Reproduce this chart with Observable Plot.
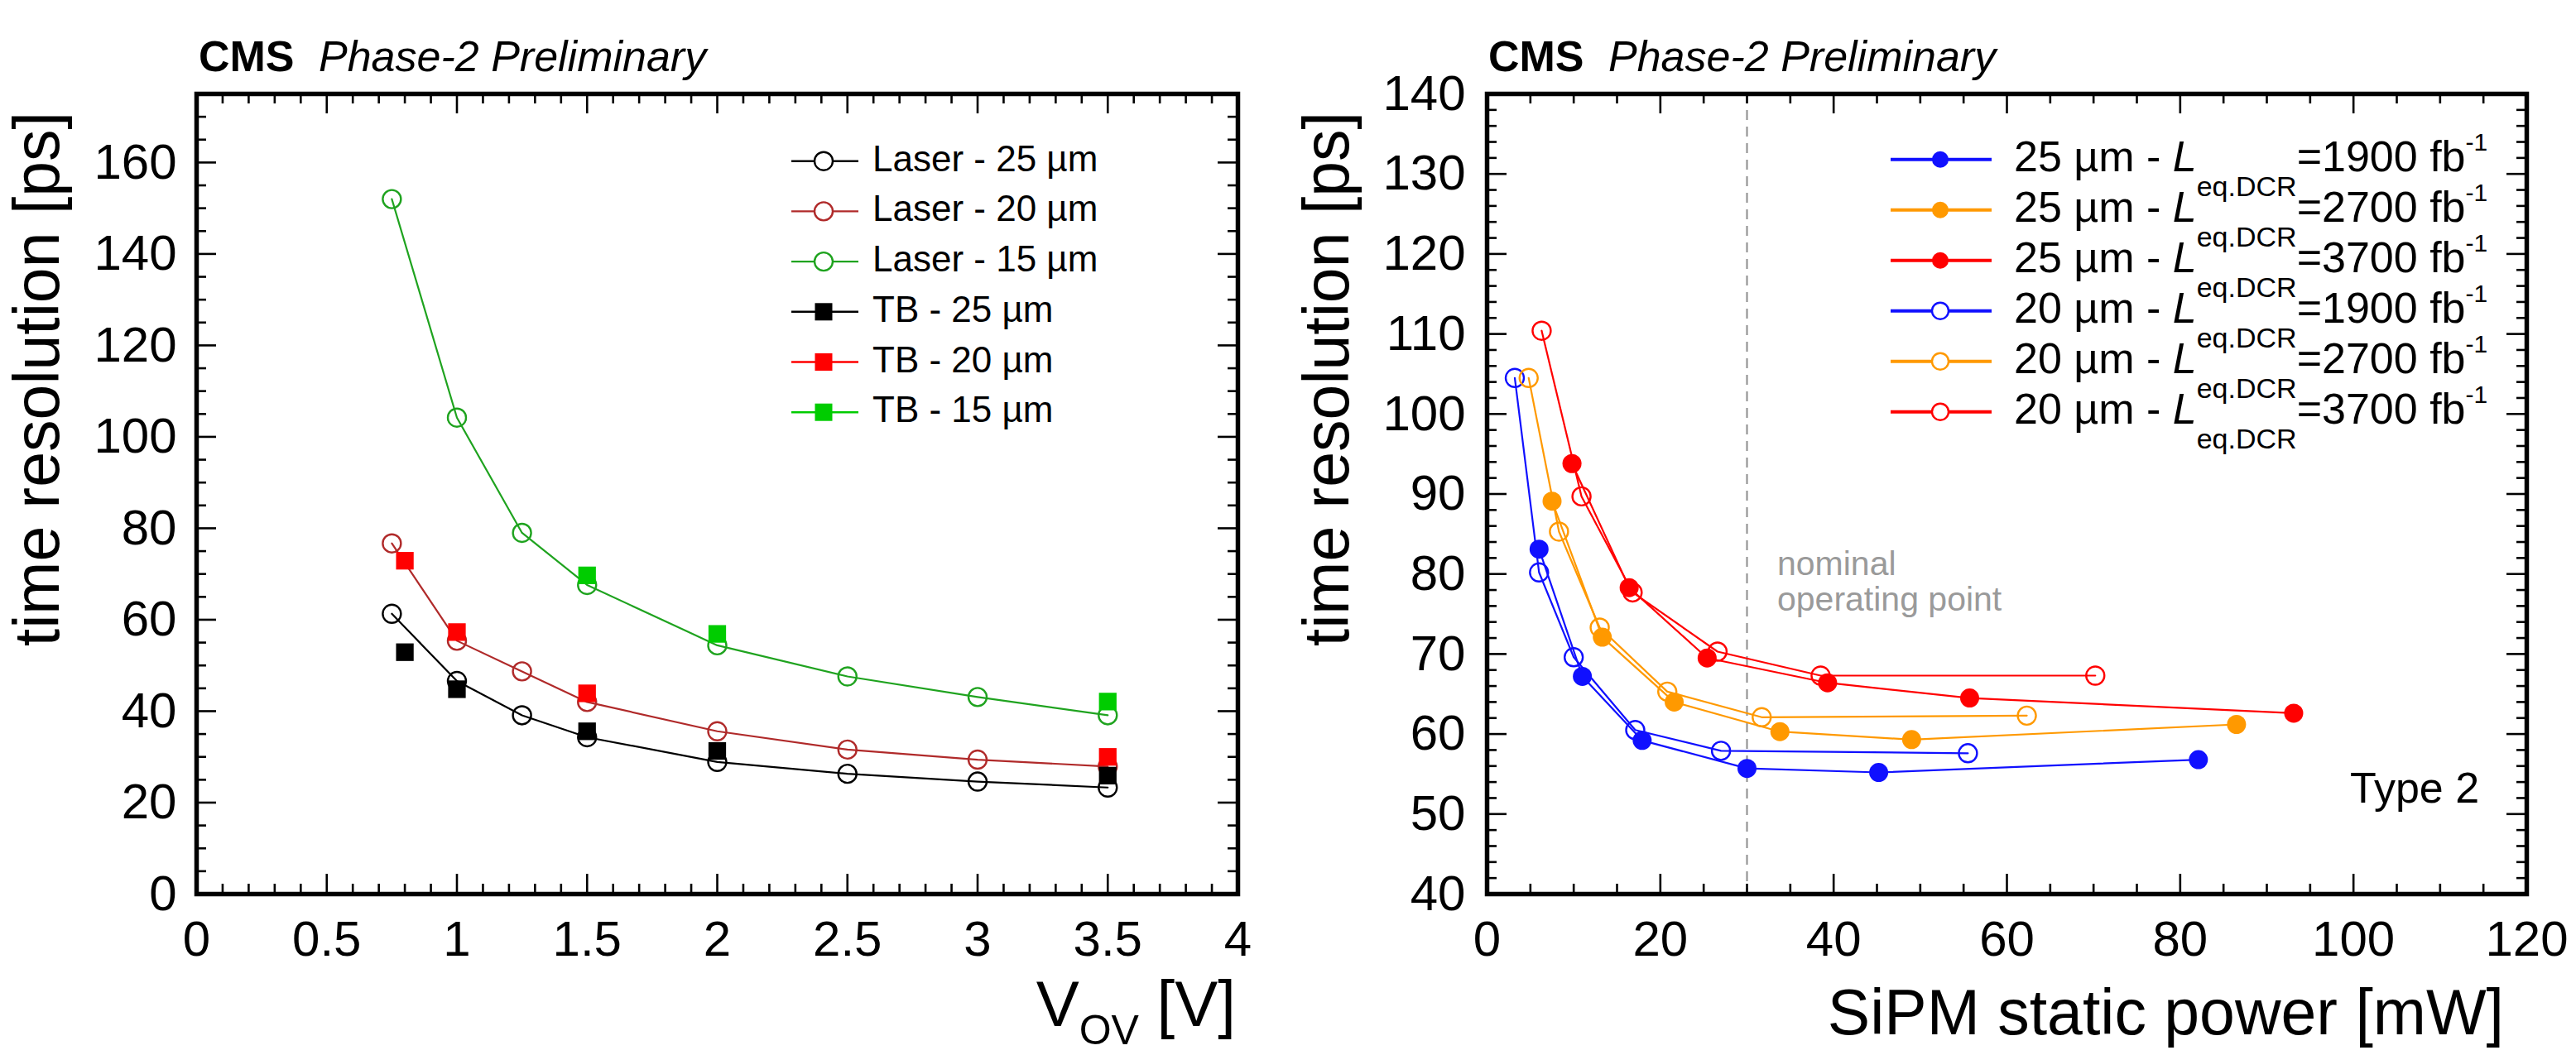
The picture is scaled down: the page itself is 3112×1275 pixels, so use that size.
<!DOCTYPE html>
<html><head><meta charset="utf-8">
<script src="https://cdn.jsdelivr.net/npm/d3@7"></script>
<script src="https://cdn.jsdelivr.net/npm/@observablehq/plot@0.6"></script>
<style>
html,body{margin:0;padding:0;background:#fff;}
#wrap{position:relative;width:3112px;height:1275px;overflow:hidden;background:#fff;}
#wrap svg{position:absolute;top:0;max-width:none !important;}
</style></head><body><div id="wrap"></div>
<script>
// ---------- Left panel: time resolution vs V_OV ----------
const vovLaser = [0.75, 1.0, 1.25, 1.5, 2.0, 2.5, 3.0, 3.5];
const laser25 = [61.3, 46.6, 39.1, 34.3, 28.9, 26.3, 24.6, 23.3];
const laser20 = [76.7, 55.4, 48.7, 42.0, 35.6, 31.6, 29.4, 27.9];
const laser15 = [152.0, 104.2, 79.0, 67.6, 54.4, 47.6, 43.1, 39.1];
const vovTB25 = [0.8, 1.0, 1.5, 2.0, 3.5];
const tb25 = [52.9, 44.8, 35.6, 31.3, 25.9];
const vovTB20 = [0.8, 1.0, 1.5, 3.5];
const tb20 = [72.9, 57.3, 43.9, 30.0];
const vovTB15 = [1.5, 2.0, 3.5];
const tb15 = [69.7, 56.9, 42.1];
const xTicksL = [0, 0.5, 1, 1.5, 2, 2.5, 3, 3.5, 4];
const yTicksL = [0, 20, 40, 60, 80, 100, 120, 140, 160];

// ---------- Right panel: time resolution vs SiPM static power ----------
const p25_1900 = [6.0, 11.0, 17.9, 30.0, 45.2, 82.1];
const t25_1900 = [83.1, 67.2, 59.2, 55.7, 55.2, 56.8];
const p25_2700 = [7.5, 13.3, 21.6, 33.8, 49.0, 86.5];
const t25_2700 = [89.1, 72.1, 64.0, 60.3, 59.3, 61.2];
const p25_3700 = [9.8, 16.4, 25.4, 39.3, 55.7, 93.1];
const t25_3700 = [93.8, 78.3, 69.5, 66.4, 64.5, 62.6];
const p20_1900 = [3.2, 6.0, 10.0, 17.1, 27.0, 55.5];
const t20_1900 = [104.5, 80.2, 69.6, 60.5, 57.9, 57.6];
const p20_2700 = [4.8, 8.3, 13.0, 20.8, 31.7, 62.3];
const t20_2700 = [104.5, 85.3, 73.3, 65.3, 62.1, 62.3];
const p20_3700 = [6.3, 10.9, 16.8, 26.6, 38.5, 70.2];
const t20_3700 = [110.4, 89.7, 77.7, 70.3, 67.3, 67.3];
const nominalPower = [30];
const xTicksR = [0, 20, 40, 60, 80, 100, 120];
const yTicksR = [40, 50, 60, 70, 80, 90, 100, 110, 120, 130, 140];

const FONT = '"Liberation Sans", Arial, Helvetica, sans-serif';
const W = 1556, H = 1275;
const rows = (xs, ys) => xs.map((x, i) => ({x, y: ys[i]}));

const laserSeries = [
  {name: "Laser - 25 µm", xs: vovLaser, ys: laser25, color: "#000000"},
  {name: "Laser - 20 µm", xs: vovLaser, ys: laser20, color: "#b02a2a"},
  {name: "Laser - 15 µm", xs: vovLaser, ys: laser15, color: "#1fa31f"}
];
const tbSeries = [
  {name: "TB - 25 µm", xs: vovTB25, ys: tb25, color: "#000000"},
  {name: "TB - 20 µm", xs: vovTB20, ys: tb20, color: "#ff0000"},
  {name: "TB - 15 µm", xs: vovTB15, ys: tb15, color: "#00cc00"}
];
const powerSeries = [
  {pitch: "25", lumi: "1900", xs: p25_1900, ys: t25_1900, color: "#1010ff", filled: true},
  {pitch: "25", lumi: "2700", xs: p25_2700, ys: t25_2700, color: "#ff9900", filled: true},
  {pitch: "25", lumi: "3700", xs: p25_3700, ys: t25_3700, color: "#ff0000", filled: true},
  {pitch: "20", lumi: "1900", xs: p20_1900, ys: t20_1900, color: "#1010ff", filled: false},
  {pitch: "20", lumi: "2700", xs: p20_2700, ys: t20_2700, color: "#ff9900", filled: false},
  {pitch: "20", lumi: "3700", xs: p20_3700, ys: t20_3700, color: "#ff0000", filled: false}
];

function tickMarks(xMajor, xMinor, yMajor, yMinor, fw, fh) {
  const sw = 2.6, big = 24, small = 12;
  return [
    Plot.tickX(xMajor, {x: d => d, insetTop: fh - big, strokeWidth: sw}),
    Plot.tickX(xMajor, {x: d => d, insetBottom: fh - big, strokeWidth: sw}),
    Plot.tickX(xMinor, {x: d => d, insetTop: fh - small, strokeWidth: sw}),
    Plot.tickX(xMinor, {x: d => d, insetBottom: fh - small, strokeWidth: sw}),
    Plot.tickY(yMajor, {y: d => d, insetRight: fw - big, strokeWidth: sw}),
    Plot.tickY(yMajor, {y: d => d, insetLeft: fw - big, strokeWidth: sw}),
    Plot.tickY(yMinor, {y: d => d, insetRight: fw - small, strokeWidth: sw}),
    Plot.tickY(yMinor, {y: d => d, insetLeft: fw - small, strokeWidth: sw})
  ];
}

// ----- Left plot -----
const mL = {top: 113, bottom: H - 1080, left: 237, right: W - 1495};
const fwL = W - mL.left - mL.right, fhL = H - mL.top - mL.bottom;
const plotL = Plot.plot({
  width: W, height: H,
  marginTop: mL.top, marginBottom: mL.bottom, marginLeft: mL.left, marginRight: mL.right,
  style: {fontFamily: FONT, fontSize: "60px", color: "black", background: "white", overflow: "visible"},
  x: {domain: [0, 4]},
  y: {domain: [0, 175]},
  marks: [
    ...laserSeries.flatMap(s => [
      Plot.line(rows(s.xs, s.ys), {x: "x", y: "y", stroke: s.color, strokeWidth: 2.2}),
      Plot.dot(rows(s.xs, s.ys), {x: "x", y: "y", r: 11, stroke: s.color, strokeWidth: 2.4, fill: "none"})
    ]),
    ...tbSeries.map(s => Plot.dot(rows(s.xs, s.ys), {x: "x", y: "y", symbol: "square", r: 12, fill: s.color, stroke: "none"})),
    ...tickMarks(xTicksL, d3.range(0.1, 4, 0.1).filter(v => Math.abs(v * 2 - Math.round(v * 2)) > 1e-6),
                 yTicksL, d3.range(5, 176, 5).filter(v => v % 20 !== 0), fwL, fhL),
    Plot.frame({stroke: "black", strokeWidth: 5.5}),
    Plot.axisX(xTicksL, {tickSize: 0, tickPadding: 32, tickFormat: d => String(d), label: null}),
    Plot.axisY(yTicksL, {tickSize: 0, tickPadding: 24, tickFormat: d => String(d), label: null})
  ]
});
plotL.style.left = "0px";

// ----- Right plot -----
const mR = {top: 113, bottom: H - 1080, left: 1796 - W, right: W - (3052 - W)};
const fwR = W - mR.left - mR.right, fhR = H - mR.top - mR.bottom;
const plotR = Plot.plot({
  width: W, height: H,
  marginTop: mR.top, marginBottom: mR.bottom, marginLeft: mR.left, marginRight: mR.right,
  style: {fontFamily: FONT, fontSize: "60px", color: "black", background: "white", overflow: "visible"},
  x: {domain: [0, 120]},
  y: {domain: [40, 140]},
  marks: [
    Plot.ruleX(nominalPower, {x: d => d, stroke: "#8c8c8c", strokeWidth: 2, strokeDasharray: "12,8"}),
    ...powerSeries.map(s => Plot.line(rows(s.xs, s.ys), {x: "x", y: "y", stroke: s.color, strokeWidth: 2.2})),
    ...powerSeries.map(s => s.filled
      ? Plot.dot(rows(s.xs, s.ys), {x: "x", y: "y", r: 11.5, fill: s.color, stroke: "none"})
      : Plot.dot(rows(s.xs, s.ys), {x: "x", y: "y", r: 11, fill: "none", stroke: s.color, strokeWidth: 2.4})),
    ...tickMarks(xTicksR, d3.range(5, 120, 5).filter(v => v % 20 !== 0),
                 yTicksR, d3.range(42, 140, 2).filter(v => v % 10 !== 0), fwR, fhR),
    Plot.frame({stroke: "black", strokeWidth: 5.5}),
    Plot.axisX(xTicksR, {tickSize: 0, tickPadding: 32, tickFormat: d => String(d), label: null}),
    Plot.axisY(yTicksR, {tickSize: 0, tickPadding: 26, tickFormat: d => String(d), label: null})
  ]
});
plotR.style.left = W + "px";

const wrap = document.getElementById("wrap");
wrap.appendChild(plotL);
wrap.appendChild(plotR);

// ----- Annotations (titles, legends, labels) -----
const txt = (sel, x, y, size) => sel.append("text").attr("x", x).attr("y", y).attr("text-anchor", "start")
  .attr("font-family", FONT).attr("font-size", size).attr("fill", "black");
function header(svg, x) {
  txt(svg, x, 86, 52).attr("font-weight", "bold").text("CMS");
  txt(svg, x + 145, 86, 52).attr("font-style", "italic").text("Phase-2 Preliminary");
}
function yTitle(svg, x) {
  svg.append("text").attr("transform", `translate(${x},135) rotate(-90)`).attr("text-anchor", "end")
    .attr("font-family", FONT).attr("font-size", 77).attr("fill", "black").text("time resolution [ps]");
}
const sL = d3.select(plotL), sR = d3.select(plotR);
header(sL, 240); header(sR, 242);
yTitle(sL, 71); yTitle(sR, 73);

// x titles
{
  const t = txt(sL, 1493, 1240, 78).attr("text-anchor", "end");
  t.append("tspan").text("V");
  t.append("tspan").attr("font-size", 50).attr("dy", 22).text("OV");
  t.append("tspan").attr("dy", -22).text(" [V]");
}
txt(sR, 3025 - W, 1250, 77).attr("text-anchor", "end").text("SiPM static power [mW]");

// left legend
const legL = sL.append("g");
[...laserSeries.map(s => ({...s, open: true})), ...tbSeries.map(s => ({...s, open: false}))].forEach((s, i) => {
  const y = 194.7 + i * 60.7;
  legL.append("line").attr("x1", 956).attr("x2", 1037).attr("y1", y).attr("y2", y).attr("stroke", s.color).attr("stroke-width", 2.4);
  if (s.open) legL.append("circle").attr("cx", 995).attr("cy", y).attr("r", 11).attr("fill", "white").attr("stroke", s.color).attr("stroke-width", 2.4);
  else legL.append("rect").attr("x", 995 - 10.5).attr("y", y - 10.5).attr("width", 21).attr("height", 21).attr("fill", s.color);
  txt(legL, 1054, y + 12, 44).text(s.name);
});

// right legend
const legR = sR.append("g");
powerSeries.forEach((s, i) => {
  const y = 192.7 + i * 61;
  legR.append("line").attr("x1", 2284 - W).attr("x2", 2406 - W).attr("y1", y).attr("y2", y).attr("stroke", s.color).attr("stroke-width", 4);
  if (s.filled) legR.append("circle").attr("cx", 2344 - W).attr("cy", y).attr("r", 10).attr("fill", s.color);
  else legR.append("circle").attr("cx", 2344 - W).attr("cy", y).attr("r", 10).attr("fill", "white").attr("stroke", s.color).attr("stroke-width", 2.4);
  const t = txt(legR, 2433 - W, y + 14, 52);
  t.append("tspan").text(`${s.pitch} µm - `);
  t.append("tspan").attr("font-style", "italic").text("L");
  t.append("tspan").attr("font-size", 34).attr("dy", 30).text("eq.DCR");
  t.append("tspan").attr("dy", -30).text(`=${s.lumi} fb`);
  t.append("tspan").attr("font-size", 30).attr("dy", -25).text("-1");
});

// nominal operating point
txt(sR, 2147 - W, 695, 41).attr("fill", "#9a9a9a").text("nominal");
txt(sR, 2147 - W, 738, 41).attr("fill", "#9a9a9a").text("operating point");
txt(sR, 2839 - W, 970, 52).text("Type 2");
</script></body></html>
